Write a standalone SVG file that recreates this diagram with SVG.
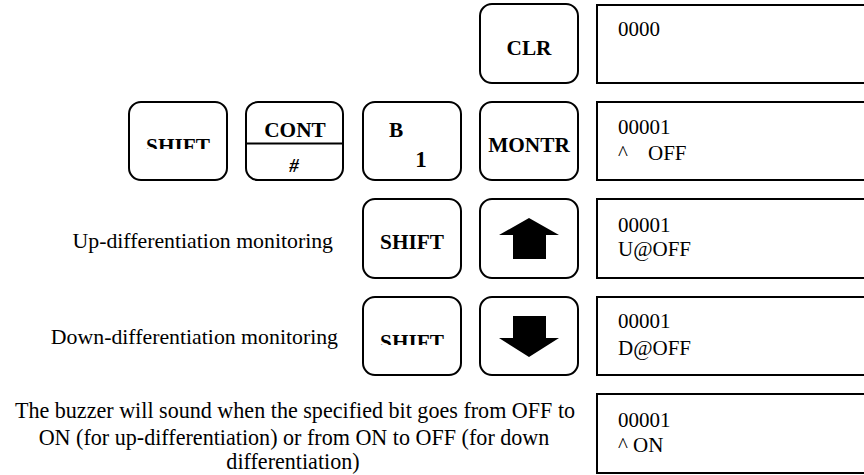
<svg xmlns="http://www.w3.org/2000/svg" width="864" height="475" viewBox="0 0 864 475">
<style>
.key{fill:#fff;stroke:#000;stroke-width:2}
.disp{fill:#fff;stroke:#000;stroke-width:2}
.kl{font-family:"Liberation Serif","Times New Roman",serif;font-weight:bold;font-size:21.3px;text-anchor:middle;fill:#000}
.dt{font-family:"Liberation Serif","Times New Roman",serif;font-size:21px;fill:#000}
.lt{font-family:"Liberation Serif","Times New Roman",serif;font-size:21.8px;fill:#000}
</style>
<defs>
<clipPath id="c2"><rect x="129" y="100" width="98" height="49"/></clipPath>
<clipPath id="c4"><rect x="363" y="295" width="98" height="50"/></clipPath>
</defs>
<g id="key-clr"><rect class="key" x="480" y="4" width="98" height="79" rx="12"/><text class="kl" x="529" y="55">CLR</text></g>
<g id="disp-1"><rect class="disp" x="597" y="5" width="270" height="78"/><text class="dt" x="618" y="36">0000</text></g>

<g id="key-shift-1"><rect class="key" x="129" y="102" width="98" height="78" rx="12"/><text class="kl" x="178" y="153" clip-path="url(#c2)">SHIFT</text></g>
<g id="key-cont"><rect class="key" x="246" y="102" width="97" height="78" rx="12"/><line x1="246" y1="143.5" x2="343" y2="143.5" stroke="#000" stroke-width="2"/><text class="kl" x="295" y="137">CONT</text><text class="kl" x="294" y="172" style="font-style:italic;font-size:19px">#</text></g>
<g id="key-b1"><rect class="key" x="363" y="102" width="98" height="78" rx="12"/><text class="kl" x="396" y="137">B</text><text class="kl" x="421" y="167" style="font-size:23px">1</text></g>
<g id="key-montr"><rect class="key" x="480" y="102" width="98" height="78" rx="12"/><text class="kl" x="529" y="152">MONTR</text></g>
<g id="disp-2"><rect class="disp" x="597" y="102" width="270" height="78"/><text class="dt" x="618" y="134">00001</text><text class="dt" x="618" y="160">^ <tspan x="648">OFF</tspan></text></g>

<g id="label-up"><text class="lt" x="333" y="248" text-anchor="end">Up-differentiation monitoring</text></g>
<g id="key-shift-2"><rect class="key" x="363" y="199" width="98" height="79" rx="12"/><text class="kl" x="412" y="249">SHIFT</text></g>
<g id="key-up"><rect class="key" x="480" y="199" width="98" height="79" rx="12"/><polygon points="529,218 559,235 546,235 546,259 513,259 513,235 499,235" fill="#000"/></g>
<g id="disp-3"><rect class="disp" x="597" y="199" width="270" height="79"/><text class="dt" x="618" y="232">00001</text><text class="dt" x="618" y="256">U@OFF</text></g>

<g id="label-down"><text class="lt" x="338" y="344" text-anchor="end">Down-differentiation monitoring</text></g>
<g id="key-shift-3"><rect class="key" x="363" y="297" width="98" height="78" rx="12"/><text class="kl" x="412" y="349" clip-path="url(#c4)">SHIFT</text></g>
<g id="key-down"><rect class="key" x="480" y="297" width="98" height="78" rx="12"/><polygon points="513,316 546,316 546,338 559,338 529,357 499,338 513,338" fill="#000"/></g>
<g id="disp-4"><rect class="disp" x="597" y="297" width="270" height="78"/><text class="dt" x="618" y="328">00001</text><text class="dt" x="618" y="355">D@OFF</text></g>

<g id="note"><text class="lt" text-anchor="middle" style="font-size:22.1px"><tspan x="295" y="418">The buzzer will sound when the specified bit goes from OFF to</tspan><tspan x="294" y="445">ON (for up-differentiation) or from ON to OFF (for down</tspan><tspan x="293" y="469">differentiation)</tspan></text></g>
<g id="disp-5"><rect class="disp" x="597" y="394" width="270" height="79"/><text class="dt" x="618" y="427">00001</text><text class="dt" x="618" y="452">^ ON</text></g>
<g id="connectors"></g>
</svg>
